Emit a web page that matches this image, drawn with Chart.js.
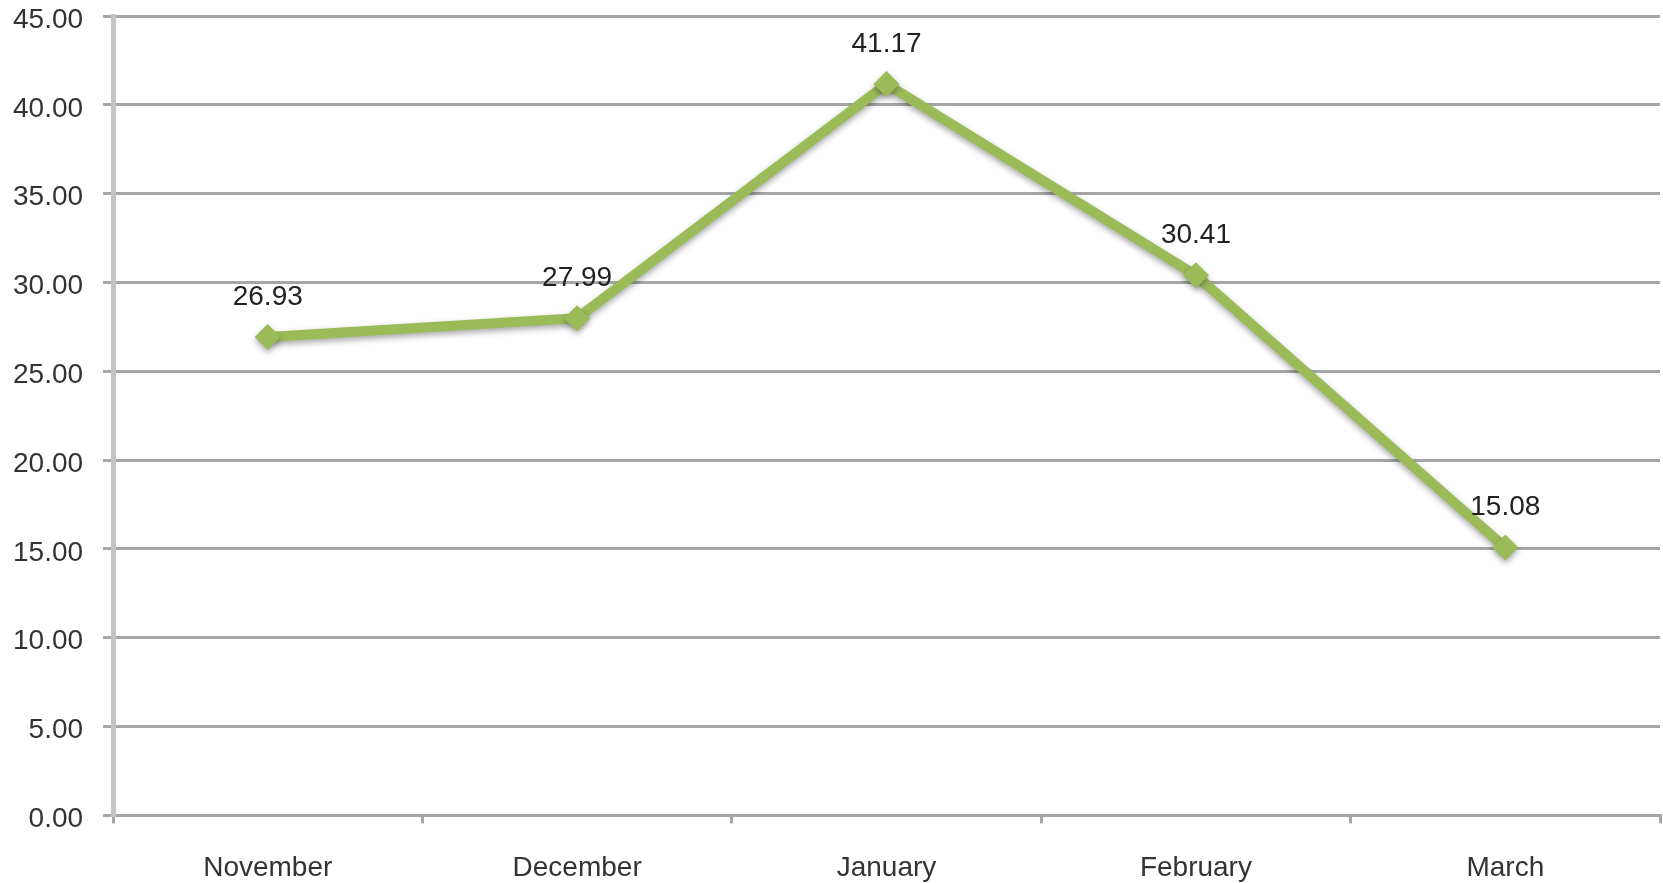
<!DOCTYPE html>
<html>
<head>
<meta charset="utf-8">
<script src="https://cdn.jsdelivr.net/npm/chart.js@4/dist/chart.umd.min.js"></script>
<style>
  html, body { margin: 0; padding: 0; background: #fff; overflow: hidden; }
  #wrap { width: 1663px; height: 883px; position: relative; }
</style>
</head>
<body>
<div id="wrap"><canvas id="chart"></canvas></div>
<script>
const months = ['November', 'December', 'January', 'February', 'March'];
const values = [26.93, 27.99, 41.17, 30.41, 15.08];
const yTicks = [0, 5, 10, 15, 20, 25, 30, 35, 40, 45];

// petites étiquettes au-dessus des points
const valueLabels = {
  id: 'valueLabels',
  afterDatasetsDraw(chart) {
    const ctx = chart.ctx;
    const meta = chart.getDatasetMeta(0);
    ctx.save();
    ctx.font = '28px "Liberation Sans", Arial, sans-serif';
    ctx.fillStyle = '#222';
    ctx.textAlign = 'center';
    ctx.textBaseline = 'middle';
    meta.data.forEach((pt, i) => {
      ctx.fillText(values[i].toFixed(2), pt.x, pt.y - 40);
    });
    ctx.restore();
  }
};

// ombre grise sous la ligne
const lineShadow = {
  id: 'lineShadow',
  beforeDatasetsDraw(chart) {
    const ctx = chart.ctx;
    ctx.save();
    ctx.shadowColor = 'rgba(0,0,0,0.35)';
    ctx.shadowBlur = 6;
    ctx.shadowOffsetY = 3;
  },
  afterDatasetsDraw(chart) {
    chart.ctx.restore();
  }
};

new Chart(document.getElementById('chart'), {
  type: 'line',
  data: {
    labels: months,
    datasets: [{
      data: values,
      borderColor: '#9bbb59',
      backgroundColor: '#9bbb59',
      borderWidth: 10,
      lineTension: 0,
      pointStyle: 'rectRot',
      pointRadius: 13,
      pointBorderWidth: 0,
      pointBackgroundColor: '#9bbb59'
    }]
  },
  options: {
    responsive: true,
    maintainAspectRatio: false,
    animation: false,
    layout: { autoPadding: false, padding: { left: -7, right: 0, top: 0, bottom: -30 } },
    plugins: {
      legend: { display: false },
      tooltip: { enabled: false }
    },
    scales: {
      x: {
        offset: true,
        afterFit: (s) => { s.paddingRight = 3; },
        grid: {
          offset: true,
          drawOnChartArea: false,
          drawTicks: true,
          tickLength: 8,
          color: '#a6a6a6',
          lineWidth: 3
        },
        border: { color: '#a6a6a6', width: 3 },
        ticks: {
          padding: 28,
          color: '#333',
          font: { family: '"Liberation Sans", Arial, sans-serif', size: 28 }
        }
      },
      y: {
        min: 0,
        max: 45,
        afterBuildTicks: (axis) => { axis.ticks = yTicks.map(v => ({ value: v })); },
        afterFit: (s) => { s.paddingTop = 16; },
        grid: {
          color: '#a6a6a6',
          lineWidth: 3,
          tickLength: 10
        },
        border: { color: '#c4c4c4', width: 5 },
        ticks: {
          padding: 20,
          labelOffset: 4,
          color: '#333',
          font: { family: '"Liberation Sans", Arial, sans-serif', size: 28 },
          callback: (v) => Number(v).toFixed(2)
        }
      }
    }
  },
  plugins: [lineShadow, valueLabels]
});
</script>
</body>
</html>
